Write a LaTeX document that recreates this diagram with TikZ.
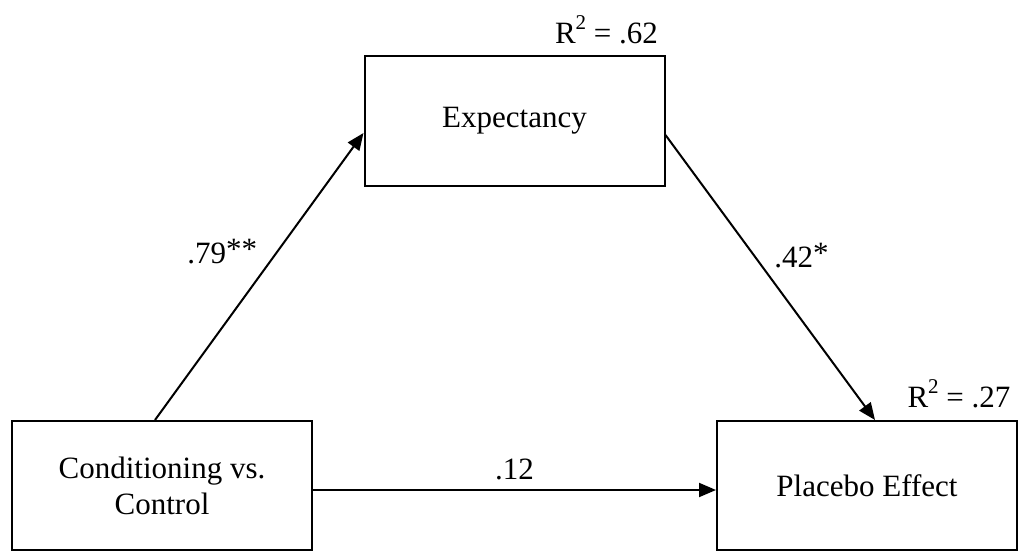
\documentclass[tikz,border=0pt]{standalone}
\usepackage{fontspec}
\setmainfont{Liberation Serif}
\usetikzlibrary{arrows.meta}
\newcommand{\rsqidx}{\raisebox{14pt}{\fontsize{21}{21}\selectfont 2}}
\newcommand{\sigmark}[1]{\raisebox{4pt}{#1}}
\begin{document}
\begin{tikzpicture}[x=1pt,y=-1pt,
  every node/.style={font=\fontsize{31}{36}\selectfont},
  varbox/.style={draw,line width=2pt,minimum width=300pt,minimum height=129pt,align=center,inner sep=0pt},
  effect/.style={line width=2pt,-{Triangle[length=17pt,width=14pt]}}]
\useasboundingbox (0,0) rectangle (1021,551);
\node[varbox] (cond) at (162,485.5) {Conditioning vs.\\Control};
\node[varbox] (exp) at (514.5,121) {Expectancy};
\node[varbox] (plac) at (867,485.5) {Placebo Effect};
\node[anchor=base east] (rexp) at ([xshift=-4pt,yshift=12pt]exp.north east) {R\rsqidx\ = .62};
\node[anchor=base east] (rplac) at ([xshift=-4pt,yshift=13pt]plac.north east) {R\rsqidx\ = .27};
\draw[effect] ([xshift=-7pt]cond.north) -- node[pos=0.52,above left=2pt] (a) {.79\sigmark{**}} ([yshift=-12pt]exp.west);
\draw[effect] ([yshift=-14pt]exp.east) -- node[pos=0.49,above right=2pt] (b) {.42\sigmark{*}} ([xshift=8pt]plac.north);
\draw[effect] ([yshift=-4.5pt]cond.east) -- node[above=6pt] (c) {.12} ([yshift=-4.5pt]plac.west);
\end{tikzpicture}
\end{document}
